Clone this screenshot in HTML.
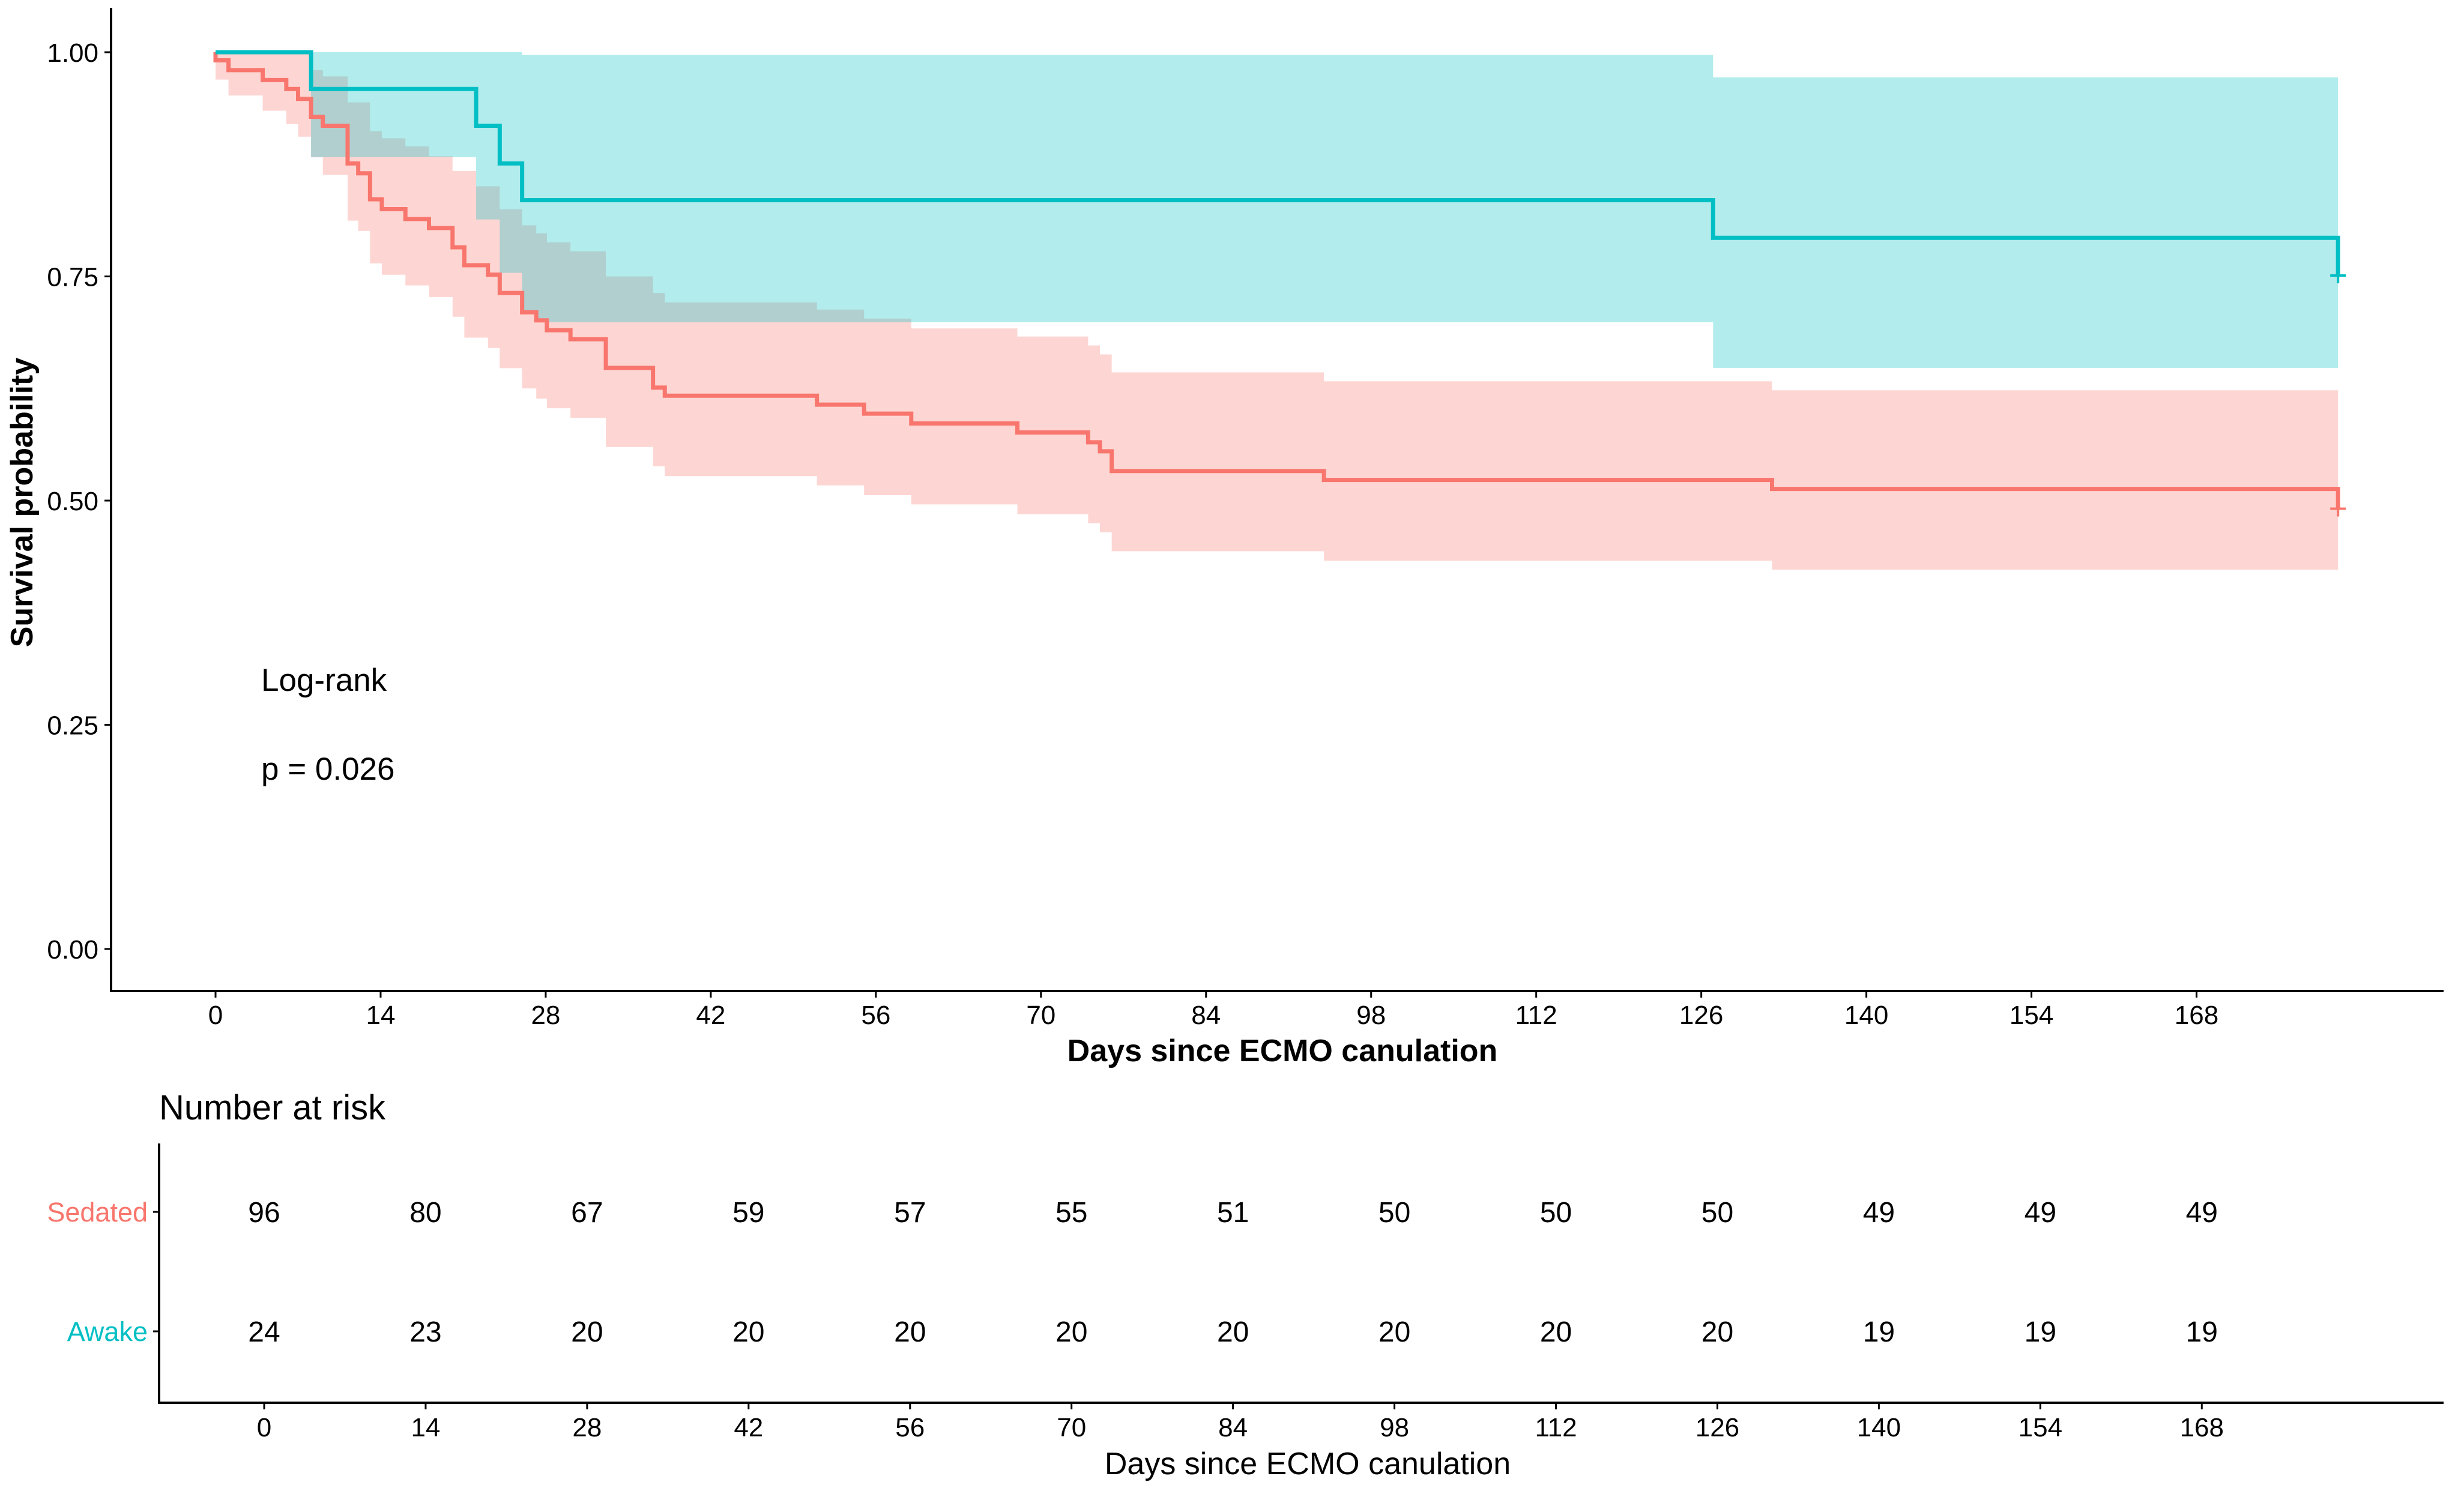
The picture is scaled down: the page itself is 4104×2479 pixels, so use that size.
<!DOCTYPE html>
<html><head><meta charset="utf-8"><style>
html,body{margin:0;padding:0;background:#fff}
svg{display:block}
text{font-family:"Liberation Sans",Arial,sans-serif}
</style></head><body>
<svg id="chart" width="4104" height="2479" viewBox="0 0 4104 2479" xmlns="http://www.w3.org/2000/svg">
<g id="bands"></g>
<g id="lines"></g>
<g id="axes"></g>
<text x="37" y="837" font-size="52" font-weight="bold" text-anchor="middle" dominant-baseline="central" transform="rotate(-90 37 837)">Survival probability</text>
<text x="2136" y="1768" font-size="52" font-weight="bold" text-anchor="middle">Days since ECMO canulation</text>
<text x="435" y="1151" font-size="53">Log-rank</text>
<text x="435" y="1299" font-size="53">p = 0.026</text>
<g id="risk"></g>
<text x="265" y="1865" font-size="58">Number at risk</text>
<text x="2178" y="2456" font-size="52" text-anchor="middle">Days since ECMO canulation</text>
</svg>
<script>
// ---- data ----
const sedT=[0,0,1.1,4.0,6.0,7.0,8.1,9.1,11.2,12.1,13.1,14.1,16.1,18.1,20.1,21.1,23.1,24.1,26,27.2,28.1,30.1,33.1,37.1,38.1,51,55,59,68,74,75,76,94,132,180];
const sedS=[1.0,0.991,0.980,0.969,0.959,0.948,0.928,0.918,0.876,0.865,0.836,0.825,0.814,0.804,0.7825,0.7625,0.752,0.7315,0.710,0.701,0.690,0.680,0.648,0.626,0.617,0.607,0.597,0.586,0.576,0.565,0.555,0.533,0.523,0.513,0.491];
const sedLoT=[0,1.1,4.0,6.0,7.0,8.1,9.1,11.2,12.1,13.1,14.1,16.1,18.1,20.1,21.1,23.1,24.1,26,27.2,28.1,30.1,33.1,37.1,38.1,51,55,59,68,74,75,76,94,132];
const sedLo=[0.9695,0.9517,0.9347,0.9198,0.9058,0.8828,0.8633,0.8122,0.8007,0.7646,0.7518,0.740,0.727,0.705,0.6817,0.6702,0.6477,0.6251,0.6137,0.603,0.5924,0.5597,0.5384,0.5273,0.517,0.506,0.4957,0.4849,0.4747,0.4647,0.4435,0.433,0.423];
const sedUpT=[0,8.1,9.1,11.2,13.1,14.1,16.1,18.1,20.1,22.1,24.1,26,27.2,28.1,30.1,33.1,37.1,38.1,51,55,59,68,74,75,76,94,132];
const sedUp=[1.0,0.980,0.973,0.944,0.912,0.904,0.895,0.884,0.8675,0.8505,0.825,0.807,0.798,0.788,0.778,0.750,0.7315,0.721,0.713,0.703,0.692,0.683,0.673,0.663,0.643,0.633,0.623];
const awkT=[0,8.1,22.1,24.1,26,127,180];
const awkS=[1.0,0.959,0.918,0.876,0.835,0.793,0.751];
const awkLoT=[0,8.1,22.1,24.1,26,27.2,28.1,127];
const awkLo=[1.0,0.883,0.8135,0.754,0.709,0.703,0.699,0.648];
const awkUpT=[0,26,127];
const awkUp=[1.0,0.997,0.972];
const endDay=180;
const censorT=[180];
const sedCensor=[0.491];
const awkCensor=[0.751];
const xTicks=[0,14,28,42,56,70,84,98,112,126,140,154,168];
const yTicks=[0,0.25,0.5,0.75,1.0];
const yTickLabels=["0.00","0.25","0.50","0.75","1.00"];
const riskSed=[96,80,67,59,57,55,51,50,50,50,49,49,49];
const riskAwk=[24,23,20,20,20,20,20,20,20,20,19,19,19];

// ---- scales ----
const X=d=>359+19.64*d;
const Y=s=>1581-1494*s;
const XR=d=>440+19.21*d;
const NS="http://www.w3.org/2000/svg";
function mk(tag,attrs,parent){const e=document.createElementNS(NS,tag);for(const k in attrs)e.setAttribute(k,attrs[k]);parent.appendChild(e);return e;}
const bands=document.getElementById('bands'),lines=document.getElementById('lines'),axes=document.getElementById('axes'),risk=document.getElementById('risk');

function stepVal(ts,vs,t){let v=vs[0];for(let i=0;i<ts.length;i++){if(ts[i]<=t)v=vs[i];}return v;}
function bandPath(upT,up,loT,lo){
  const bps=[...new Set([...upT,...loT])].sort((a,b)=>a-b);
  let top="",bot=[];
  bps.forEach((t,i)=>{const t2=i+1<bps.length?bps[i+1]:endDay;const u=stepVal(upT,up,t),l=stepVal(loT,lo,t);
    top+=(i===0?"M":"L")+X(t)+","+Y(u)+" L"+X(t2)+","+Y(u)+" ";
    bot.unshift("L"+X(t2)+","+Y(l)+" L"+X(t)+","+Y(l));});
  return top+bot.join(" ")+" Z";
}
function linePath(ts,ss){let d="M"+X(ts[0])+","+Y(ss[0]);for(let i=1;i<ts.length;i++){d+=" H"+X(ts[i])+" V"+Y(ss[i]);}return d;}

const b1=mk('path',{d:bandPath(sedUpT,sedUp,sedLoT,sedLo),fill:'#F8766D','fill-opacity':'0.3'},bands);


const b2=mk('path',{d:bandPath(awkUpT,awkUp,awkLoT,awkLo),fill:'#00BFC4','fill-opacity':'0.3'},bands);


const l1=mk('path',{d:linePath(sedT,sedS),fill:'none',stroke:'#F8766D','stroke-width':'7'},lines);


const l2=mk('path',{d:linePath(awkT,awkS),fill:'none',stroke:'#00BFC4','stroke-width':'7'},lines);


censorT.forEach((t,i)=>{
  [[sedCensor[i],'#F8766D','sedated-censor-mark'],[awkCensor[i],'#00BFC4','awake-censor-mark']].forEach(c=>{
    const p=mk('path',{d:`M${X(t)-13},${Y(c[0])} h26 M${X(t)},${Y(c[0])-13} v26`,stroke:c[1],'stroke-width':'4'},lines);
    
    
  });
});

// axes
const ya=mk('line',{x1:185,y1:13,x2:185,y2:1651,stroke:'#000','stroke-width':'4'},axes);


const xa=mk('line',{x1:183,y1:1651,x2:4070,y2:1651,stroke:'#000','stroke-width':'4'},axes);


yTicks.forEach((v,i)=>{
  const t=mk('line',{x1:174,y1:Y(v),x2:185,y2:Y(v),stroke:'#000','stroke-width':'3'},axes);
  
  
  const tx=mk('text',{x:164,y:Y(v)+16,'font-size':44,'text-anchor':'end'},axes);
  tx.textContent=yTickLabels[i];
  
  
});
xTicks.forEach(d=>{
  const t=mk('line',{x1:X(d),y1:1651,x2:X(d),y2:1662,stroke:'#000','stroke-width':'3'},axes);
  
  
  const tx=mk('text',{x:X(d),y:1706,'font-size':44,'text-anchor':'middle'},axes);
  tx.textContent=d;
  
  
});

// risk table
const rya=mk('line',{x1:265,y1:1905,x2:265,y2:2339,stroke:'#000','stroke-width':'4'},risk);


const rxa=mk('line',{x1:263,y1:2337,x2:4070,y2:2337,stroke:'#000','stroke-width':'4'},risk);


const rows=[[2019,'Sedated','#F8766D',riskSed,'sedated'],[2218,'Awake','#00BFC4',riskAwk,'awake']];
rows.forEach(r=>{
  const tk=mk('line',{x1:255,y1:r[0],x2:265,y2:r[0],stroke:'#000','stroke-width':'3'},risk);
  
  
  const lb=mk('text',{x:246,y:r[0]+16,'font-size':45,'text-anchor':'end',fill:r[2]},risk);
  lb.textContent=r[1];
  
  
  r[3].forEach((n,i)=>{
    const c=mk('text',{x:XR(xTicks[i]),y:r[0]+17,'font-size':48,'text-anchor':'middle'},risk);
    c.textContent=n;
    
    
  });
});
xTicks.forEach(d=>{
  const t=mk('line',{x1:XR(d),y1:2337,x2:XR(d),y2:2348,stroke:'#000','stroke-width':'3'},risk);
  
  
  const tx=mk('text',{x:XR(d),y:2393,'font-size':44,'text-anchor':'middle'},risk);
  tx.textContent=d;
  
  
});
</script>
</body></html>
